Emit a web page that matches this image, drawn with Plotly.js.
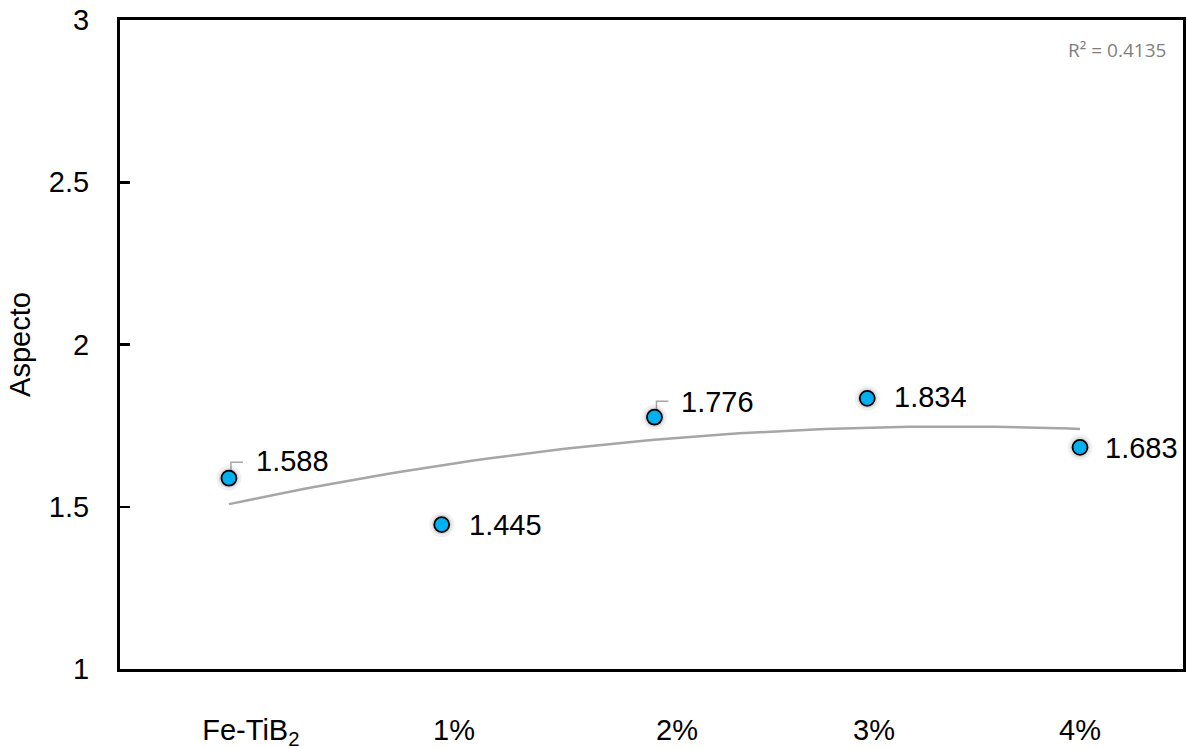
<!DOCTYPE html>
<html>
<head>
<meta charset="utf-8">
<script src="https://cdn.plot.ly/plotly-3.0.1.min.js"></script>
<style>html,body{margin:0;padding:0;background:#fff;}#chart{width:1187px;height:748px;}</style>
</head>
<body>
<div id="chart"></div>
<script>
// ---- data ----
const categories = ["Fe-TiB<sub>2</sub>", "1%", "2%", "3%", "4%"];
const xIndex = [0, 1, 2, 3, 4];
const aspecto = [1.588, 1.445, 1.776, 1.834, 1.683];
const labelTexts = ["1.588", "1.445", "1.776", "1.834", "1.683"];
const yTickVals = [1, 1.5, 2, 2.5, 3];
const yTickText = ["1", "1.5", "2", "2.5", "3"];
const r2Text = "R\u00B2 = 0.4135";

// ---- quadratic least-squares trendline computed from the data ----
function polyfit2(xs, ys) {
  let n = xs.length, S = [0,0,0,0,0], T = [0,0,0];
  for (let i = 0; i < n; i++) {
    let p = 1;
    for (let k = 0; k < 5; k++) { S[k] += p; if (k < 3) T[k] += p * ys[i]; p *= xs[i]; }
  }
  let A = [[S[0],S[1],S[2],T[0]],[S[1],S[2],S[3],T[1]],[S[2],S[3],S[4],T[2]]];
  for (let i = 0; i < 3; i++) {
    for (let j = i + 1; j < 3; j++) {
      const f = A[j][i] / A[i][i];
      for (let k = i; k < 4; k++) A[j][k] -= f * A[i][k];
    }
  }
  const c = [0,0,0];
  for (let i = 2; i >= 0; i--) {
    let s = A[i][3];
    for (let k = i + 1; k < 3; k++) s -= A[i][k] * c[k];
    c[i] = s / A[i][i];
  }
  return c;
}
const coef = polyfit2(xIndex, aspecto);
const trendX = [], trendY = [];
for (let i = 0; i <= 80; i++) {
  const x = xIndex[0] + (xIndex[xIndex.length - 1] - xIndex[0]) * i / 80;
  trendX.push(x);
  trendY.push(coef[0] + coef[1] * x + coef[2] * x * x);
}

const FONT = "Liberation Sans, Arial, sans-serif";

const traces = [
  { x: trendX, y: trendY, type: "scatter", mode: "lines",
    line: { color: "#A6A6A6", width: 2.5 }, hoverinfo: "skip", showlegend: false },
  { x: xIndex, y: aspecto, type: "scatter", mode: "markers",
    marker: { size: 25, color: "rgba(0,0,0,0.06)", line: { width: 0 } },
    hoverinfo: "skip", showlegend: false },
  { x: xIndex, y: aspecto, type: "scatter", mode: "markers",
    marker: { size: 20, color: "rgba(0,0,0,0.09)", line: { width: 0 } },
    hoverinfo: "skip", showlegend: false },
  { x: xIndex, y: aspecto, type: "scatter", mode: "markers",
    marker: { size: 15, color: "#00B0F0", line: { color: "#000000", width: 1.8 } },
    showlegend: false }
];

const lblShiftX = [25, 25, 25, 25, 23];
const lblShiftY = [17, 0, 15, 1, -1];
const annotations = xIndex.map((x, i) => ({
  x: x, y: aspecto[i], xref: "x", yref: "y", text: labelTexts[i],
  showarrow: false, xanchor: "left", yanchor: "middle",
  xshift: lblShiftX[i], yshift: lblShiftY[i],
  font: { family: FONT, size: 29, color: "#000" }
}));
annotations.push({
  xref: "paper", yref: "paper", x: 0.986, y: 0.954, xanchor: "right", yanchor: "middle",
  text: r2Text, showarrow: false,
  font: { family: "Open Sans, Liberation Sans, sans-serif", size: 19, color: "#7F7F7F" }
});

const leaderIdx = [0, 2];
const leaderStart = [2, 4];
const shapes = leaderIdx.map((i, k) => ({
  type: "path", layer: "below",
  xref: "x", yref: "y", xsizemode: "pixel", ysizemode: "pixel",
  xanchor: xIndex[i], yanchor: aspecto[i],
  path: "M 2 " + leaderStart[k] + " L 2 16 L 14 16",
  line: { color: "#A6A6A6", width: 1.5 }
}));

const layout = {
  width: 1187, height: 748,
  margin: { l: 120, r: 4, t: 20, b: 79 },
  paper_bgcolor: "#fff", plot_bgcolor: "#fff",
  showlegend: false,
  font: { family: FONT, size: 29, color: "#000" },
  xaxis: {
    range: [-0.512, 4.484],
    tickvals: [0.103, 1.058, 2.106, 3.032, 4.0],
    ticktext: categories,
    ticks: "", showgrid: false, zeroline: false,
    showline: true, linecolor: "#000", linewidth: 3, mirror: true,
    tickfont: { family: FONT, size: 29, color: "#000" },
    ticklabelstandoff: 33
  },
  yaxis: {
    range: [1, 3],
    tickvals: yTickVals, ticktext: yTickText,
    ticks: "inside", ticklen: 10, tickwidth: 2.5, tickcolor: "#000",
    showgrid: false, zeroline: false,
    showline: true, linecolor: "#000", linewidth: 3, mirror: true,
    tickfont: { family: FONT, size: 29, color: "#000" },
    ticklabelstandoff: 22,
    title: { text: "Aspecto", font: { family: FONT, size: 29, color: "#000" }, standoff: 10 }
  },
  annotations: annotations,
  shapes: shapes
};

Plotly.newPlot("chart", traces, layout, { displayModeBar: false, staticPlot: true });
</script>
</body>
</html>
